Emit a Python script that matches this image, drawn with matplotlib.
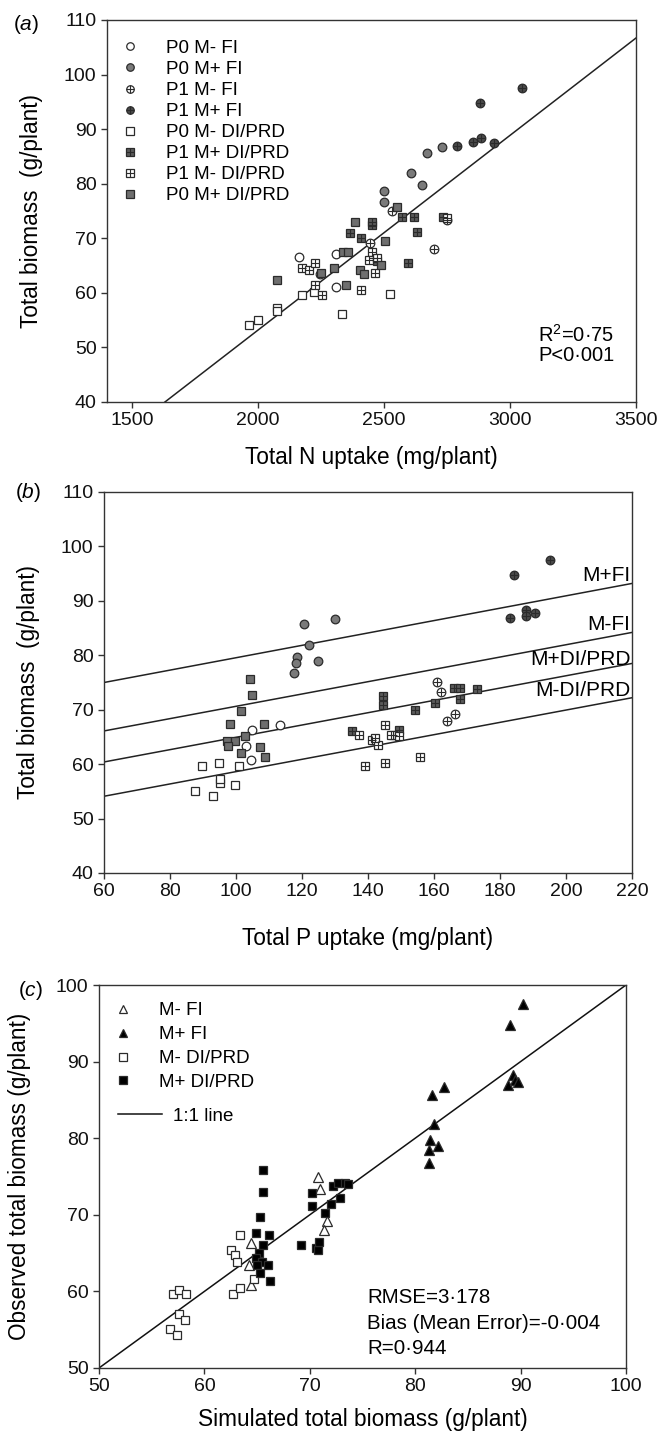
import matplotlib
matplotlib.use("Agg")
import matplotlib.pyplot as plt
from matplotlib.lines import Line2D
import numpy as np

plt.rcParams['font.family'] = ['Liberation Sans', 'DejaVu Sans']
plt.rcParams['mathtext.fontset'] = 'custom'
plt.rcParams['mathtext.rm'] = 'Liberation Sans'
plt.rcParams['mathtext.it'] = 'Liberation Sans:italic'

# ---- panel (a): biomass vs total N uptake ----
a_p0_mm_fi_x = [2162, 2311, 2308, 2245]
a_p0_mm_fi_y = [66.5, 67.2, 61.0, 63.4]
a_p0_mp_fi_x = [2498, 2498, 2605, 2651, 2671, 2730]
a_p0_mp_fi_y = [78.6, 76.7, 81.9, 79.7, 85.7, 86.8]
a_p1_mm_fi_x = [2531, 2749, 2700, 2445]
a_p1_mm_fi_y = [75.0, 73.4, 68.0, 69.2]
a_p1_mp_fi_x = [2788, 2854, 2884, 2937, 2880, 3047]
a_p1_mp_fi_y = [86.9, 87.6, 88.3, 87.4, 94.7, 97.5]
a_p0_mm_di_x = [1963, 2000, 2075, 2073, 2175, 2222, 2333, 2522]
a_p0_mm_di_y = [54.2, 55.1, 57.2, 56.6, 59.6, 60.2, 56.2, 59.7]
a_p1_mp_di_x = [2452, 2452, 2366, 2410, 2630, 2594, 2571, 2618, 2735, 2455, 2470]
a_p1_mp_di_y = [72.4, 73.0, 70.9, 70.1, 71.2, 65.4, 73.9, 73.9, 73.9, 66.4, 65.8]
a_p1_mm_di_x = [2173, 2202, 2225, 2225, 2254, 2410, 2465, 2452, 2440, 2472, 2750]
a_p1_mm_di_y = [64.6, 64.2, 65.4, 61.4, 59.6, 60.5, 63.6, 67.4, 66.0, 66.3, 73.8]
a_p0_mp_di_x = [2384, 2551, 2505, 2074, 2300, 2350, 2403, 2486, 2337, 2357, 2249, 2420]
a_p0_mp_di_y = [72.9, 75.8, 69.5, 62.3, 64.5, 61.4, 64.2, 65.1, 67.4, 67.4, 63.6, 63.4]
a_fit_x = [1630, 3500]
a_fit_y = [40.0, 106.7]

# ---- panel (b): biomass vs total P uptake ----
b_p0_mm_fi_x = [113.3, 104.9, 103.1, 104.6]
b_p0_mm_fi_y = [67.2, 66.3, 63.4, 60.8]
b_p0_mp_fi_x = [120.7, 129.9, 122.0, 118.5, 118.1, 124.8, 117.5]
b_p0_mp_fi_y = [85.7, 86.7, 81.8, 79.7, 78.5, 79.0, 76.7]
b_p1_mm_fi_x = [161.0, 162.2, 163.9, 166.3]
b_p1_mm_fi_y = [75.0, 73.3, 67.9, 69.2]
b_p1_mp_fi_x = [184.2, 195.1, 182.9, 187.8, 187.8, 190.7]
b_p1_mp_fi_y = [94.7, 97.5, 86.9, 88.3, 87.3, 87.7]
b_p0_mm_di_x = [87.5, 89.8, 93.0, 94.9, 95.1, 95.3, 99.6, 101.0]
b_p0_mm_di_y = [55.1, 59.6, 54.2, 60.2, 56.6, 57.2, 56.2, 59.7]
b_p1_mp_di_x = [144.6, 144.6, 154.2, 160.3, 166.0, 168.0, 168.0, 173.0, 149.5, 147.5, 135.0]
b_p1_mp_di_y = [72.6, 70.8, 70.0, 71.2, 74.0, 74.0, 72.0, 73.8, 66.3, 65.4, 66.0]
b_p1_mm_di_x = [137.3, 141.2, 143.1, 139.2, 145.2, 145.0, 146.9, 149.5, 155.8, 142.0]
b_p1_mm_di_y = [65.4, 64.5, 63.5, 59.6, 60.3, 67.1, 65.4, 65.1, 61.4, 64.8]
b_p0_mp_di_x = [104.3, 104.7, 101.4, 98.1, 108.6, 97.4, 99.6, 102.6, 107.3, 101.5, 108.9, 97.7]
b_p0_mp_di_y = [75.6, 72.7, 69.7, 67.4, 67.3, 64.2, 64.3, 65.1, 63.2, 62.0, 61.4, 63.4]
b_line_names = ['M+FI', 'M-FI', 'M+DI/PRD', 'M-DI/PRD']
b_line_start = [75.0, 66.1, 60.4, 54.1]   # value at P = 60
b_line_end = [93.2, 84.2, 78.5, 72.2]     # value at P = 220
b_label_y = [94.7, 85.7, 79.3, 73.6]

# ---- panel (c): observed vs simulated ----
c_mm_fi_x = [70.8, 71.0, 71.6, 71.3, 64.4, 64.2, 64.4]
c_mm_fi_y = [75.0, 73.4, 69.2, 68.0, 66.3, 63.4, 60.8]
c_mp_fi_x = [81.6, 82.7, 81.8, 81.4, 81.3, 82.2, 81.3, 88.8, 89.3, 89.5, 89.8, 89.0, 90.2]
c_mp_fi_y = [85.7, 86.7, 81.8, 79.8, 78.5, 79.0, 76.8, 86.9, 88.3, 87.6, 87.3, 94.8, 97.5]
c_mm_di_x = [57.0, 57.6, 58.3, 57.6, 58.2, 56.7, 57.4, 63.4, 62.5, 62.9, 63.1, 62.7, 63.4, 64.7]
c_mm_di_y = [59.6, 60.2, 59.6, 57.1, 56.3, 55.1, 54.3, 67.3, 65.4, 64.7, 63.8, 59.6, 60.5, 61.6]
c_mp_di_x = [65.6, 65.6, 65.3, 64.9, 66.1, 65.6, 65.2, 64.9, 65.5, 66.0, 65.0, 65.3, 66.2,
             70.2, 70.2, 69.2, 70.6, 70.8, 70.9, 71.4, 72.0, 72.9, 72.2, 72.7, 73.3, 73.6]
c_mp_di_y = [75.9, 73.0, 69.7, 67.6, 67.4, 66.1, 65.0, 64.4, 63.9, 63.4, 63.5, 62.4, 61.4,
             72.9, 71.1, 66.1, 65.7, 65.4, 66.5, 70.3, 71.4, 72.2, 73.7, 74.1, 74.1, 74.0]

W, H = 662, 1434
fig = plt.figure(figsize=(W / 100, H / 100), dpi=100)


def rect(l, t, r, b):
    return [l / W, 1 - b / H, (r - l) / W, (b - t) / H]


EDGE = '#2b2b2b'
MS = 6.2
TICK = 14
LAB = 16.3


def group(ax, x, y, marker, face, cross=False, ms=MS):
    ax.plot(x, y, ls='none', marker=marker, ms=ms, mfc=face, mec=EDGE, mew=0.9, zorder=3)
    if cross:
        ax.plot(x, y, ls='none', marker='+', ms=ms, mec=EDGE, mew=0.8, zorder=4)
    h = Line2D([], [], ls='none', marker=marker, ms=ms - 0.8, mfc=face, mec=EDGE, mew=0.9)
    if cross:
        hc = Line2D([], [], ls='none', marker='+', ms=ms - 0.8, mec=EDGE, mew=0.8)
        return (h, hc)
    return h


def style(ax):
    for s in ax.spines.values():
        s.set_color('#333333')
        s.set_linewidth(1.0)
    ax.tick_params(direction='out', length=4, width=1, colors='#333333',
                   labelcolor='#111111', labelsize=TICK, top=False, right=False)


# panel (a)
ax1 = fig.add_axes(rect(107, 20, 636, 402))
hs = []
hs.append(group(ax1, a_p0_mm_fi_x, a_p0_mm_fi_y, 'o', 'white'))
hs.append(group(ax1, a_p0_mp_fi_x, a_p0_mp_fi_y, 'o', '#7a7a7a'))
hs.append(group(ax1, a_p1_mm_fi_x, a_p1_mm_fi_y, 'o', 'white', True))
hs.append(group(ax1, a_p1_mp_fi_x, a_p1_mp_fi_y, 'o', '#4a4a4a', True))
hs.append(group(ax1, a_p0_mm_di_x, a_p0_mm_di_y, 's', 'white'))
hs.append(group(ax1, a_p1_mp_di_x, a_p1_mp_di_y, 's', '#5a5a5a', True))
hs.append(group(ax1, a_p1_mm_di_x, a_p1_mm_di_y, 's', 'white', True))
hs.append(group(ax1, a_p0_mp_di_x, a_p0_mp_di_y, 's', '#6e6e6e'))
ax1.plot(a_fit_x, a_fit_y, color='#222222', lw=1.1, zorder=2)
ax1.set_xlim(1400, 3500)
ax1.set_ylim(40, 110)
ax1.set_xticks([1500, 2000, 2500, 3000, 3500])
ax1.set_yticks(np.arange(40, 111, 10))
ax1.set_xlabel('Total N uptake (mg/plant)', fontsize=LAB, labelpad=12)
ax1.set_ylabel('Total biomass  (g/plant)', fontsize=LAB, labelpad=15)
style(ax1)
ax1.legend(hs, ['P0 M- FI', 'P0 M+ FI', 'P1 M- FI', 'P1 M+ FI', 'P0 M- DI/PRD',
                'P1 M+ DI/PRD', 'P1 M- DI/PRD', 'P0 M+ DI/PRD'],
           loc='upper left', bbox_to_anchor=(0.026, 0.948), frameon=False,
           fontsize=13.5, labelspacing=0.21, handlelength=1.0, handletextpad=1.4,
           borderpad=0, borderaxespad=0)
ax1.text(0.815, 0.175, 'R$^{\\mathrm{2}}$=0·75', transform=ax1.transAxes,
         fontsize=14.5, va='center')
ax1.text(0.815, 0.122, 'P<0·001', transform=ax1.transAxes, fontsize=14.5, va='center')
fig.text(13 / W, 1 - 25 / H, '($\\it{a}$)', fontsize=15, va='center')

# panel (b)
ax2 = fig.add_axes(rect(104, 492, 632, 873))
group(ax2, b_p0_mm_fi_x, b_p0_mm_fi_y, 'o', 'white')
group(ax2, b_p0_mp_fi_x, b_p0_mp_fi_y, 'o', '#7a7a7a')
group(ax2, b_p1_mm_fi_x, b_p1_mm_fi_y, 'o', 'white', True)
group(ax2, b_p1_mp_fi_x, b_p1_mp_fi_y, 'o', '#4a4a4a', True)
group(ax2, b_p0_mm_di_x, b_p0_mm_di_y, 's', 'white')
group(ax2, b_p1_mp_di_x, b_p1_mp_di_y, 's', '#5a5a5a', True)
group(ax2, b_p1_mm_di_x, b_p1_mm_di_y, 's', 'white', True)
group(ax2, b_p0_mp_di_x, b_p0_mp_di_y, 's', '#6e6e6e')
for name, y0, y1, ly in zip(b_line_names, b_line_start, b_line_end, b_label_y):
    ax2.plot([60, 220], [y0, y1], color='#222222', lw=1.1, zorder=2)
    ax2.text(219.5, ly, name, ha='right', va='center', fontsize=15)
ax2.set_xlim(60, 220)
ax2.set_ylim(40, 110)
ax2.set_xticks(np.arange(60, 221, 20))
ax2.set_yticks(np.arange(40, 111, 10))
ax2.set_xlabel('Total P uptake (mg/plant)', fontsize=LAB, labelpad=19)
ax2.set_ylabel('Total biomass  (g/plant)', fontsize=LAB, labelpad=15)
style(ax2)
fig.text(15 / W, 1 - 493 / H, '($\\it{b}$)', fontsize=15, va='center')

# panel (c)
ax3 = fig.add_axes(rect(99, 985, 626, 1368))
hc = []
hc.append(group(ax3, c_mm_fi_x, c_mm_fi_y, '^', 'white', ms=6.8))
hc.append(group(ax3, c_mp_fi_x, c_mp_fi_y, '^', 'black', ms=6.8))
hc.append(group(ax3, c_mm_di_x, c_mm_di_y, 's', 'white'))
hc.append(group(ax3, c_mp_di_x, c_mp_di_y, 's', 'black'))
ax3.plot([50, 100], [50, 100], color='#111111', lw=1.1, zorder=2)
ax3.set_xlim(50, 100)
ax3.set_ylim(50, 100)
ax3.set_xticks(np.arange(50, 101, 10))
ax3.set_yticks(np.arange(50, 101, 10))
ax3.set_xlabel('Simulated total biomass (g/plant)', fontsize=LAB, labelpad=9)
ax3.set_ylabel('Observed total biomass (g/plant)', fontsize=LAB, labelpad=18)
style(ax3)
leg_m = ax3.legend(hc, ['M- FI', 'M+ FI', 'M- DI/PRD', 'M+ DI/PRD'],
                   loc='upper left', bbox_to_anchor=(0.028, 0.955), frameon=False,
                   fontsize=13.5, labelspacing=0.36, handlelength=1.0, handletextpad=1.4,
                   borderpad=0, borderaxespad=0)
ax3.add_artist(leg_m)
ax3.legend([Line2D([], [], color='#111111', lw=1.1)], ['1:1 line'],
           loc='upper left', bbox_to_anchor=(0.036, 0.68), frameon=False,
           fontsize=13.5, handlelength=2.35, handletextpad=0.6,
           borderpad=0, borderaxespad=0)
ax3.text(0.509, 0.184, 'RMSE=3·178', transform=ax3.transAxes, fontsize=14.8, va='center')
ax3.text(0.509, 0.117, 'Bias (Mean Error)=-0·004', transform=ax3.transAxes,
         fontsize=14.8, va='center')
ax3.text(0.509, 0.052, 'R=0·944', transform=ax3.transAxes, fontsize=14.8, va='center')
fig.text(18 / W, 1 - 990 / H, '($\\it{c}$)', fontsize=15, va='center')

fig.savefig('out.png', dpi=100)
